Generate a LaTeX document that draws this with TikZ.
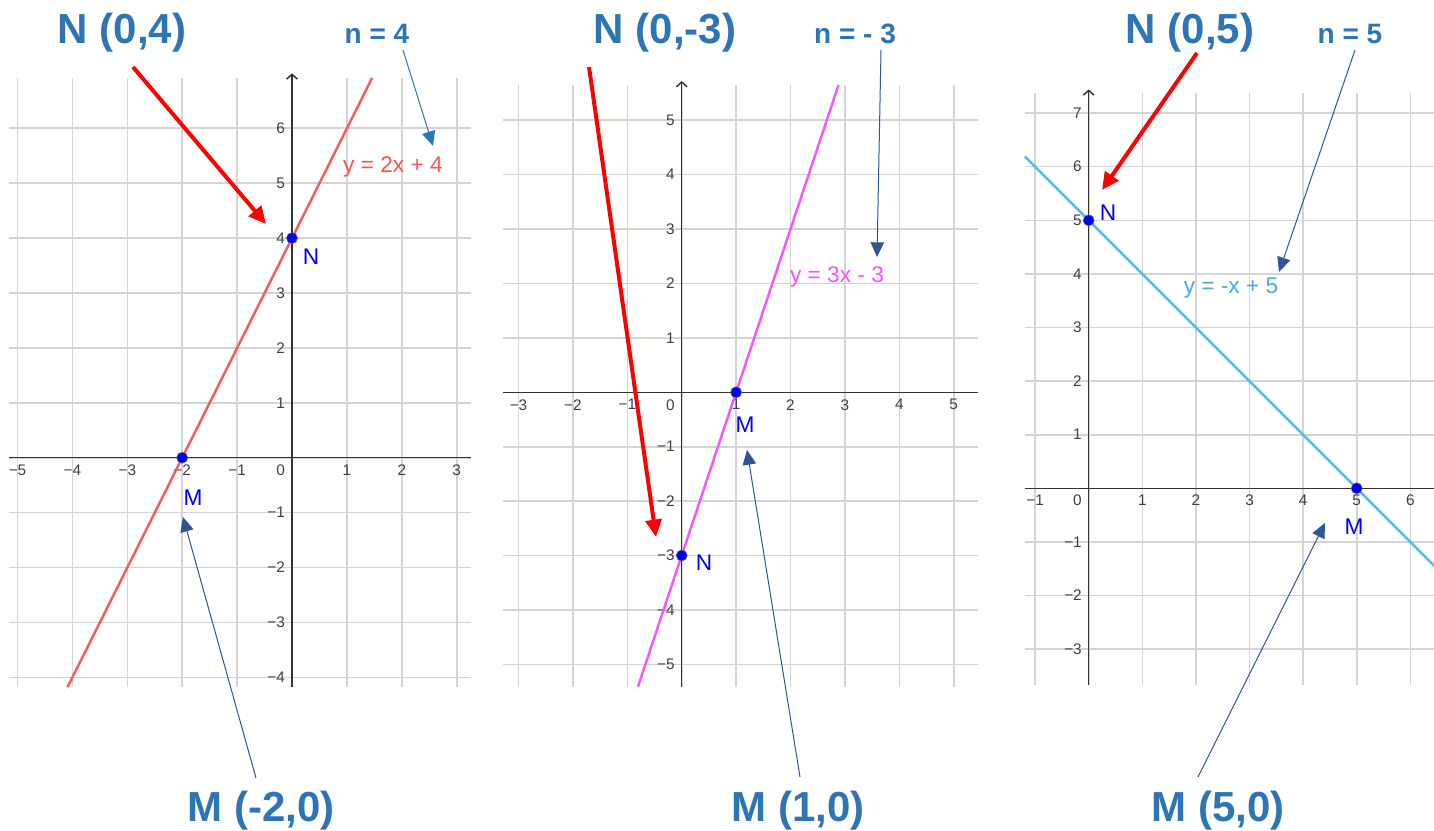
\documentclass[tikz,border=0pt]{standalone}
\usepackage{fontspec}
\setmainfont{Liberation Sans}
\usetikzlibrary{arrows.meta}
\definecolor{annot}{HTML}{2E75B6}
\definecolor{darr}{HTML}{2F5597}
\definecolor{gridc}{HTML}{D4D4D4}
\definecolor{axisc}{HTML}{333333}
\definecolor{lineA}{HTML}{FF5A5A}
\definecolor{lineB}{HTML}{FF4DFF}
\definecolor{lineC}{HTML}{55B9EE}
\definecolor{ptblue}{HTML}{0000FF}
\tikzset{
 gridln/.style={gridc, line width=1.2pt},
 axisln/.style={axisc, line width=1.1pt},
 yaxisln/.style={axisc, line width=1.1pt, -{Straight Barb[length=3.5pt,width=8pt]}},
 tick/.style={font=\fontsize{11.5}{12}\selectfont, text=black!75, inner sep=1pt},
 ptdot/.style={circle, fill=ptblue, draw=black!60, line width=0.4pt, minimum size=8.3pt, inner sep=0pt},
 ptlbl/.style={font=\fontsize{17}{18}\selectfont, text=ptblue, inner sep=0pt},
 biglbl/.style={font=\fontsize{31.5}{34}\selectfont\bfseries, text=annot, inner sep=0pt},
 nlbl/.style={font=\fontsize{21}{22}\selectfont\bfseries, text=annot, inner sep=0pt},
 eqlbl/.style={font=\fontsize{17}{18}\selectfont, inner sep=0pt},
 redarr/.style={red, line width=3pt, -{Triangle[length=13pt,width=12pt]}},
 bluearr/.style={darr, line width=0.75pt, -{Triangle[length=11pt,width=10pt]}},
 fnline/.style={line width=1.8pt},
}
\begin{document}
\begin{tikzpicture}[x=0.75pt,y=-0.75pt]
\fill[white] (0,0) rectangle (1434,831);
\useasboundingbox (0,0) rectangle (1434,831);

% ---------- Graph 1 ----------
\begin{scope}[shift={(292,457.7)},x=41.175pt,y=41.175pt]
 \foreach \i in {-5,...,3} \draw[gridln] (\i,-4.18) -- (\i,6.92);
 \foreach \j in {-4,...,6} \draw[gridln] (-5.15,\j) -- (3.26,\j);
 \draw[axisln] (-5.15,0) -- (3.26,0);
 \draw[yaxisln] (0,-4.18) -- (0,7.0);
 \foreach \i in {1,...,5} \node[tick,anchor=north] at (-\i,-0.1) {−\i};
 \foreach \i in {1,...,3} \node[tick,anchor=north] at (\i,-0.1) {\i};
 \node[tick,anchor=north east] at (-0.1,-0.1) {0};
 \foreach \j in {1,...,6} \node[tick,anchor=east] at (-0.1,\j) {\j};
 \foreach \j in {1,...,4} \node[tick,anchor=east] at (-0.1,-\j) {−\j};
 \draw[lineA, fnline] (-4.09,-4.18) -- (1.46,6.92);
 \node[ptdot] (N1) at (0,4) {};
 \node[ptdot] (M1) at (-2,0) {};
\end{scope}

% ---------- Graph 2 ----------
\begin{scope}[shift={(681.7,392.3)},x=40.8pt,y=40.8pt]
 \foreach \i in {-3,...,5} \draw[gridln] (\i,-5.41) -- (\i,5.65);
 \foreach \j in {-5,...,5} \draw[gridln] (-3.28,\j) -- (5.44,\j);
 \draw[axisln] (-3.28,0) -- (5.44,0);
 \draw[yaxisln] (0,-5.41) -- (0,5.72);
 \foreach \i in {1,...,3} \node[tick,anchor=north] at (-\i,-0.1) {−\i};
 \foreach \i in {1,...,5} \node[tick,anchor=north] at (\i,-0.1) {\i};
 \node[tick,anchor=north east] at (-0.1,-0.1) {0};
 \foreach \j in {1,...,5} \node[tick,anchor=east] at (-0.1,\j) {\j};
 \foreach \j in {1,...,5} \node[tick,anchor=east] at (-0.1,-\j) {−\j};
 \draw[lineB, fnline] (-0.803,-5.41) -- (2.883,5.65);
 \node[ptdot] (N2) at (0,-3) {};
 \node[ptdot] (M2) at (1,0) {};
\end{scope}

% ---------- Graph 3 ----------
\begin{scope}[shift={(1088.7,488.3)},x=40.2pt,y=40.2pt]
 \foreach \i in {-1,...,6} \draw[gridln] (\i,-3.67) -- (\i,7.37);
 \foreach \j in {-3,...,7} \draw[gridln] (-1.19,\j) -- (6.5,\j);
 \draw[axisln] (-1.19,0) -- (6.5,0);
 \draw[yaxisln] (0,-3.67) -- (0,7.44);
 \node[tick,anchor=north] at (-1,-0.1) {−1};
 \foreach \i in {1,...,6} \node[tick,anchor=north] at (\i,-0.1) {\i};
 \node[tick,anchor=north east] at (-0.1,-0.1) {0};
 \foreach \j in {1,...,7} \node[tick,anchor=east] at (-0.1,\j) {\j};
 \foreach \j in {1,...,3} \node[tick,anchor=east] at (-0.1,-\j) {−\j};
 \draw[lineC, fnline] (-1.19,6.19) -- (6.5,-1.5);
 \node[ptdot] (N3) at (0,5) {};
 \node[ptdot] (M3) at (5,0) {};
\end{scope}

% ---------- point labels ----------
\node[ptlbl] (lN1) at (311,257) {N};
\node[ptlbl] (lM1) at (193,498) {M};
\node[ptlbl] (lN2) at (704,563) {N};
\node[ptlbl] (lM2) at (745,425) {M};
\node[ptlbl] (lN3) at (1108,213) {N};
\node[ptlbl] (lM3) at (1354,527) {M};

% ---------- equation labels ----------
\node[eqlbl, text=lineA!90!red] (e1) at (393,167) {y = 2x + 4};
\node[eqlbl, text=lineB] (e2) at (837,277) {y = 3x - 3};
\node[eqlbl, text=lineC!90!blue] (e3) at (1231,288) {y = -x + 5};

% ---------- big annotations ----------
\node[biglbl] (bN1) at (122,33) {N (0,4)};
\node[biglbl] (bN2) at (665,33) {N (0,-3)};
\node[biglbl] (bN3) at (1190,33) {N (0,5)};
\node[nlbl] (bn1) at (377,34) {n = 4};
\node[nlbl] (bn2) at (855,34) {n = - 3};
\node[nlbl] (bn3) at (1350,34) {n = 5};
\node[biglbl] (bM1) at (261,811) {M (-2,0)};
\node[biglbl] (bM2) at (798,811) {M (1,0)};
\node[biglbl] (bM3) at (1218,811) {M (5,0)};

% ---------- arrow end points ----------
\coordinate (rs1) at (133,67);   \coordinate (rt1) at (266,224);
\coordinate (rs2) at (589,67);   \coordinate (rt2) at (656,537);
\coordinate (rs3) at (1197,53);  \coordinate (rt3) at (1102,190);
\coordinate (ns1) at (403,50);   \coordinate (nt1) at (433,146);
\coordinate (ns2) at (881,50);   \coordinate (nt2) at (877,257);
\coordinate (ns3) at (1355,50);  \coordinate (nt3) at (1279,272);
\coordinate (ms1) at (256,778);  \coordinate (mt1) at (183,517);
\coordinate (ms2) at (800,777);  \coordinate (mt2) at (747,450);
\coordinate (ms3) at (1198,777); \coordinate (mt3) at (1325,523);

\draw[redarr] (rs1) -- (rt1);
\draw[redarr] (rs2) -- (rt2);
\draw[redarr] (rs3) -- (rt3);
\draw[bluearr, annot] (ns1) -- (nt1);
\draw[bluearr] (ns2) -- (nt2);
\draw[bluearr] (ns3) -- (nt3);
\draw[bluearr] (ms1) -- (mt1);
\draw[bluearr] (ms2) -- (mt2);
\draw[bluearr] (ms3) -- (mt3);
\end{tikzpicture}
\end{document}
